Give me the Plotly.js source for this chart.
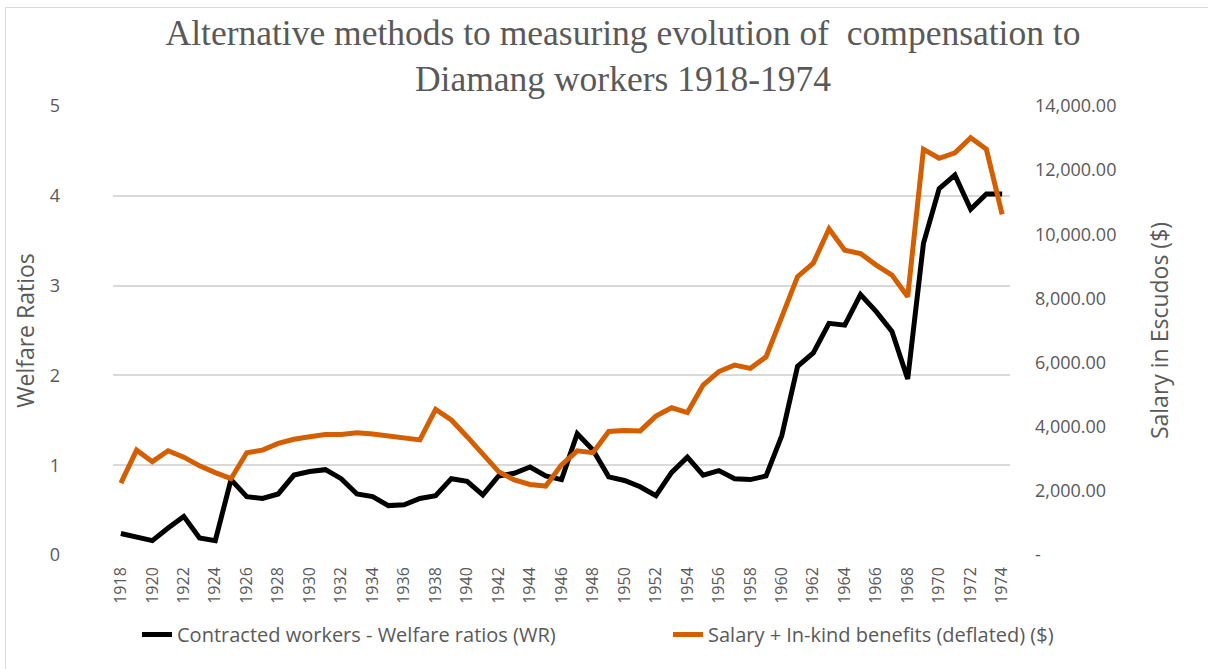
<!DOCTYPE html>
<html>
<head>
<meta charset="utf-8">
<script src="https://cdn.plot.ly/plotly-3.0.1.min.js"></script>
<style>
  html, body { margin: 0; padding: 0; background: #ffffff; overflow: hidden; }
  #chart { width: 1208px; height: 669px; position: absolute; left: 0; top: 0; }
  #frame { position: absolute; left: 5px; top: 7px; width: 1300px; height: 800px;
           border: 1px solid #d9d9d9; pointer-events: none; }
</style>
</head>
<body>
<div id="chart"></div>
<div id="frame"></div>
<script>
const years = [];
for (let y = 1918; y <= 1974; y++) years.push(y);

const welfareRatios = [
  0.24, 0.20, 0.16, 0.30, 0.43, 0.19, 0.16, 0.84, 0.65, 0.63,
  0.68, 0.89, 0.93, 0.95, 0.85, 0.68, 0.65, 0.55, 0.56, 0.63,
  0.66, 0.85, 0.82, 0.67, 0.88, 0.91, 0.98, 0.88, 0.84, 1.35,
  1.17, 0.87, 0.83, 0.76, 0.66, 0.92, 1.09, 0.89, 0.94, 0.85,
  0.84, 0.88, 1.33, 2.10, 2.25, 2.58, 2.56, 2.90, 2.71, 2.49,
  1.96, 3.47, 4.08, 4.23, 3.85, 4.02, 4.02
];

const salaryInKind = [
  2240, 3270, 2910, 3250, 3050, 2780, 2570, 2380, 3190, 3270,
  3480, 3610, 3690, 3760, 3760, 3810, 3770, 3710, 3620, 3590,
  4540, 4210, 3690, 3150, 2600, 2340, 2200, 2150, 2810, 3250,
  3190, 3850, 3880, 3870, 4330, 4590, 4440, 5300, 5720, 5920,
  5820, 6180, 7480, 8680, 9100, 10170, 9500, 9400, 9040, 8730,
  8050, 12650, 12370, 12540, 13010, 12650, 10620
];

const xTickVals = years.filter(y => (y - 1918) % 2 === 0);
const xTickText = xTickVals.map(String);
const leftTickVals = [0, 1, 2, 3, 4, 5];
const rightTickVals = [0, 2000, 4000, 6000, 8000, 10000, 12000, 14000];
const rightTickText = ['-', '2,000.00', '4,000.00', '6,000.00', '8,000.00', '10,000.00', '12,000.00', '14,000.00'];

const grey = '#595959';
const sansFont = 'Open Sans, Noto Sans, sans-serif';

const traces = [
  {
    x: years, y: welfareRatios, type: 'scatter', mode: 'lines',
    name: 'Contracted workers - Welfare ratios (WR)',
    line: { color: '#000000', width: 5 },
    yaxis: 'y', legend: 'legend'
  },
  {
    x: years, y: salaryInKind, type: 'scatter', mode: 'lines',
    name: 'Salary + In-kind benefits (deflated) ($)',
    line: { color: '#d45f00', width: 5 },
    yaxis: 'y2', legend: 'legend2'
  }
];

const legendFont = { family: sansFont, size: 20, color: grey };

const layout = {
  width: 1208, height: 669,
  paper_bgcolor: '#ffffff', plot_bgcolor: '#ffffff',
  margin: { l: 113, r: 198, t: 106, b: 114 },
  showlegend: true,
  title: {
    text: 'Alternative methods to measuring evolution of  compensation to<br>Diamang workers 1918-1974',
    font: { family: 'Liberation Serif, DejaVu Serif, serif', size: 35.5, color: grey },
    x: 623 / 1208, xref: 'container', xanchor: 'center',
    y: 1 - 45 / 669, yref: 'container', yanchor: 'top'
  },
  xaxis: {
    range: [1917.5, 1974.5],
    tickmode: 'array', tickvals: xTickVals, ticktext: xTickText,
    tickangle: -90,
    showgrid: false, zeroline: false, showline: false,
    ticks: '', ticklabelstandoff: 8,
    tickfont: { family: sansFont, size: 16, color: grey }
  },
  yaxis: {
    range: [0, 5],
    tickmode: 'array', tickvals: leftTickVals,
    showgrid: true, gridcolor: '#d9d9d9', gridwidth: 2,
    zeroline: false, showline: false, ticks: '',
    ticklabelstandoff: 52,
    tickfont: { family: sansFont, size: 18, color: grey },
    title: { text: 'Welfare Ratios', font: { family: sansFont, size: 23, color: grey }, standoff: 8 }
  },
  yaxis2: {
    range: [0, 14000], overlaying: 'y', side: 'right',
    tickmode: 'array', tickvals: rightTickVals, ticktext: rightTickText,
    showgrid: false, zeroline: false, showline: false, ticks: '',
    ticklabelstandoff: 24,
    tickfont: { family: sansFont, size: 18, color: grey },
    title: { text: 'Salary in Escudos ($)', font: { family: sansFont, size: 23, color: grey }, standoff: 36 }
  },
  legend: {
    orientation: 'h',
    x: 24 / 897, xanchor: 'left', xref: 'paper',
    y: 1 - 615 / 669, yanchor: 'top', yref: 'container',
    font: legendFont, bgcolor: 'rgba(0,0,0,0)'
  },
  legend2: {
    orientation: 'h',
    x: (668 - 113) / 897, xanchor: 'left', xref: 'paper',
    y: 1 - 615 / 669, yanchor: 'top', yref: 'container',
    font: legendFont, bgcolor: 'rgba(0,0,0,0)'
  }
};

Plotly.newPlot('chart', traces, layout, { displayModeBar: false, staticPlot: true });
</script>
</body>
</html>
